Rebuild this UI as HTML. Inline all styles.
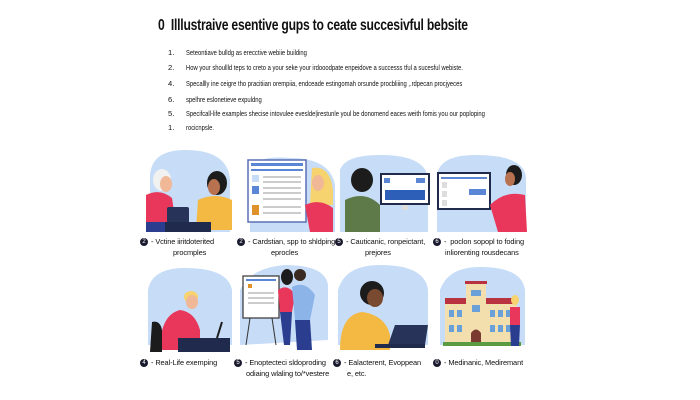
<!DOCTYPE html>
<html><head><meta charset="utf-8"><style>
html,body{margin:0;padding:0;background:#fff;}
body{width:700px;height:400px;overflow:hidden;position:relative;font-family:"Liberation Sans",sans-serif;color:#111;}
.t{position:absolute;white-space:nowrap;}
.title{left:158px;top:17px;font-size:16px;font-weight:bold;letter-spacing:-0.3px;transform:scaleX(0.76);transform-origin:left top;}
.li{font-size:7.6px;left:168px;}
.li span{position:absolute;left:18px;transform:scaleX(0.77);transform-origin:left top;}
.cap{font-size:7.4px;line-height:11px;letter-spacing:-0.1px;}
.dot{display:inline-block;width:8px;height:8px;border-radius:50%;background:#1a1a2e;color:#fff;font-size:6px;text-align:center;line-height:8px;vertical-align:middle;margin-right:3px;}
svg{position:absolute;left:0;top:0;}
</style></head><body>
<svg width="700" height="400" viewBox="0 0 700 400">
<path d="M150 232 L150 175 Q152 150 185 150 Q228 150 230 180 L230 232Z" fill="#c6dcf7"/>
<ellipse cx="162" cy="180" rx="9" ry="11" fill="#f1f1f1"/>
<ellipse cx="166" cy="184" rx="6" ry="8" fill="#f0b896"/>
<path d="M146 195 Q160 188 172 198 L176 225 L146 225Z" fill="#e8375a"/>
<rect x="146" y="222" width="30" height="10" fill="#2a3d8f"/>
<ellipse cx="217" cy="183" rx="10" ry="12" fill="#1c1c1c"/>
<ellipse cx="214" cy="187" rx="6" ry="8" fill="#b97250"/>
<path d="M198 200 Q215 192 232 200 L232 230 L196 230Z" fill="#f4b942"/>
<rect x="167" y="207" width="22" height="16" rx="2" fill="#28335a"/>
<rect x="165" y="222" width="46" height="10" fill="#1f2a4d"/>
<path d="M250 232 L250 170 Q255 155 290 158 Q330 158 335 185 L335 232Z" fill="#c6dcf7"/>
<rect x="248" y="160" width="58" height="62" fill="#fff" stroke="#5b6fb5" stroke-width="1.5"/>
<rect x="251" y="163" width="52" height="3" fill="#5b86d6"/>
<rect x="251" y="169" width="52" height="2" fill="#5b86d6"/>
<rect x="252" y="175" width="7" height="7" fill="#c6dcf7"/>
<rect x="252" y="186" width="7" height="8" fill="#5b86d6"/>
<rect x="252" y="205" width="7" height="10" fill="#e0922a"/>
<g fill="#ccc"><rect x="263" y="176" width="38" height="2"/><rect x="263" y="181" width="38" height="2"/><rect x="263" y="187" width="38" height="2"/><rect x="263" y="192" width="38" height="2"/><rect x="263" y="198" width="38" height="2"/><rect x="263" y="206" width="38" height="2"/><rect x="263" y="212" width="38" height="2"/></g>
<path d="M312 168 Q330 165 333 190 L333 205 L310 205Z" fill="#f6d36e"/>
<ellipse cx="318" cy="183" rx="6" ry="8" fill="#f0b896"/>
<path d="M305 205 Q320 198 333 208 L333 232 L310 232Z" fill="#e8375a"/>
<path d="M340 232 L340 170 Q345 155 380 155 Q425 155 428 178 L428 232Z" fill="#c6dcf7"/>
<ellipse cx="362" cy="180" rx="11" ry="12" fill="#1c1c1c"/>
<path d="M345 200 Q365 190 380 205 L380 232 L345 232Z" fill="#5d7a48"/>
<rect x="380" y="173" width="50" height="32" fill="#1f2a4d"/>
<rect x="382" y="175" width="46" height="28" fill="#fff"/>
<rect x="384" y="178" width="6" height="5" fill="#5b86d6"/><rect x="416" y="178" width="9" height="5" fill="#5b86d6"/>
<rect x="385" y="190" width="40" height="10" fill="#2e5fb8"/>
<rect x="402" y="205" width="6" height="5" fill="#ddd"/>
<path d="M437 232 L437 175 Q440 155 475 155 Q525 155 526 178 L526 232Z" fill="#c6dcf7"/>
<rect x="437" y="172" width="54" height="38" fill="#1f2a4d"/>
<rect x="439" y="174" width="50" height="34" fill="#fff"/>
<rect x="441" y="177" width="46" height="2" fill="#5b86d6"/>
<rect x="469" y="189" width="17" height="6" fill="#5b86d6"/>
<g fill="#ddd"><rect x="442" y="182" width="5" height="6"/><rect x="442" y="191" width="5" height="6"/><rect x="442" y="200" width="5" height="6"/></g>
<ellipse cx="514" cy="175" rx="8" ry="10" fill="#1c1c1c"/>
<ellipse cx="510" cy="179" rx="5" ry="7" fill="#b97250"/>
<path d="M490 205 Q505 190 525 195 L527 232 L498 232Z" fill="#e8375a"/>
<path d="M148 345 L148 290 Q152 268 185 268 Q228 268 232 290 L232 345Z" fill="#c6dcf7"/>
<ellipse cx="191" cy="297" rx="7" ry="6" fill="#f6d36e"/>
<ellipse cx="192" cy="302" rx="6" ry="7" fill="#f0b896"/>
<path d="M160 350 Q160 315 180 310 Q195 312 200 330 L200 350Z" fill="#e8375a"/>
<path d="M152 322 Q160 320 162 330 L162 352 L150 352Z" fill="#1c1c1c"/>
<rect x="178" y="338" width="52" height="14" fill="#1f2a4d"/>
<line x1="217" y1="338" x2="222" y2="322" stroke="#1c1c1c" stroke-width="2"/>
<path d="M240 345 L240 290 Q250 268 285 265 Q325 265 328 285 L328 340Z" fill="#c6dcf7"/>
<rect x="243" y="276" width="36" height="42" fill="#fff" stroke="#333" stroke-width="1.2"/>
<rect x="246" y="279" width="30" height="2" fill="#5b86d6"/>
<rect x="248" y="284" width="4" height="4" fill="#e0922a"/>
<g fill="#ccc"><rect x="248" y="292" width="26" height="2"/><rect x="248" y="297" width="26" height="2"/><rect x="248" y="302" width="26" height="2"/></g>
<line x1="250" y1="318" x2="246" y2="345" stroke="#333"/><line x1="272" y1="318" x2="276" y2="345" stroke="#333"/>
<ellipse cx="287" cy="277" rx="6" ry="8" fill="#1c1c1c"/>
<path d="M278 290 Q288 283 295 295 L292 312 L280 312Z" fill="#e8375a"/>
<path d="M280 312 L292 312 L290 345 L284 345Z" fill="#2a3d8f"/>
<ellipse cx="300" cy="275" rx="6" ry="6" fill="#3a2a20"/>
<path d="M292 287 Q305 280 315 295 L310 320 L295 320Z" fill="#8db4e8"/>
<path d="M295 320 L310 320 L312 350 L297 350Z" fill="#2a3d8f"/>
<path d="M338 345 L338 290 Q345 265 380 265 Q425 265 428 290 L428 345Z" fill="#c6dcf7"/>
<ellipse cx="372" cy="293" rx="12" ry="12" fill="#1c1c1c"/>
<ellipse cx="375" cy="298" rx="8" ry="9" fill="#7a4a30"/>
<path d="M340 350 Q340 315 362 312 Q385 315 390 335 L390 350Z" fill="#f4b942"/>
<path d="M395 325 L428 325 L425 345 L388 345Z" fill="#28335a"/>
<rect x="375" y="344" width="50" height="4" fill="#1f2a4d"/>
<path d="M440 345 L440 290 Q448 267 480 267 Q522 267 525 290 L525 345Z" fill="#c6dcf7"/>
<rect x="445" y="303" width="72" height="40" fill="#f3dfae"/>
<rect x="445" y="298" width="72" height="6" fill="#b8323f"/>
<rect x="466" y="282" width="20" height="62" fill="#f3dfae"/>
<rect x="465" y="281" width="22" height="3" fill="#b8323f"/>
<g fill="#6aa0d8"><rect x="471" y="290" width="10" height="6"/><rect x="449" y="310" width="5" height="7"/><rect x="457" y="310" width="5" height="7"/><rect x="490" y="310" width="5" height="7"/><rect x="498" y="310" width="5" height="7"/><rect x="506" y="310" width="5" height="7"/><rect x="449" y="325" width="5" height="7"/><rect x="457" y="325" width="5" height="7"/><rect x="490" y="325" width="5" height="7"/><rect x="498" y="325" width="5" height="7"/><rect x="506" y="325" width="5" height="7"/><rect x="472" y="305" width="8" height="7"/></g>
<path d="M471 344 L471 333 Q476 326 481 333 L481 344Z" fill="#7a3a30"/>
<rect x="443" y="342" width="78" height="4" fill="#5a9a40"/>
<ellipse cx="515" cy="300" rx="4" ry="5" fill="#f6d36e"/>
<path d="M510 307 L520 307 L520 325 L510 325Z" fill="#e8375a"/>
<path d="M510 325 L520 325 L519 346 L511 346Z" fill="#2a3d8f"/>
</svg>
<div class="t title">0&nbsp;&nbsp;Illlustraive esentive gups to ceate succesivful bebsite</div>
<div class="t li" style="top:48px">1.<span>Seteontiave bulldg as erecctive webiie building</span></div>
<div class="t li" style="top:63px">2.<span>How your shoullld teps to creto a your seke your irdooodpate enpeidove a successs tful a sucesful webiste.</span></div>
<div class="t li" style="top:79px">4.<span>Specallly ine ceigre tho pracitiian orempiia, endceade estingomah orsunde procbliiing ,.rdpecan procjyeces</span></div>
<div class="t li" style="top:95px">6.<span>spelhre eslonetieve expuldng</span></div>
<div class="t li" style="top:109px">5.<span>Specifcall-life examples shecise intovulee eveslde|irestunle youl be donomend eaces weith fomis you our poploping</span></div>
<div class="t li" style="top:123px">1.<span>rocicnpsle.</span></div>
<div class="t cap" style="left:140px;top:236px"><span class="dot">2</span>- Vctine iiritdoterited<br><span style="margin-left:33px">procmples</span></div>
<div class="t cap" style="left:237px;top:236px"><span class="dot">2</span>- Cardstian, spp to shldping<br><span style="margin-left:34px">eprocles</span></div>
<div class="t cap" style="left:335px;top:236px"><span class="dot">5</span>- Cauticanic, ronpeictant,<br><span style="margin-left:30px">prejores</span></div>
<div class="t cap" style="left:433px;top:236px"><span class="dot">6</span>-&nbsp; poclon sopopl to foding<br><span style="margin-left:12px">inliorenting rousdecans</span></div>
<div class="t cap" style="left:140px;top:357px"><span class="dot">4</span>- Real-Life exemping</div>
<div class="t cap" style="left:234px;top:357px"><span class="dot">5</span>- Enoptecteci sldoproding<br><span style="margin-left:12px">odiaing wlaling to/*vestere</span></div>
<div class="t cap" style="left:333px;top:357px"><span class="dot">6</span>- Ealacterent, Evoppean<br><span style="margin-left:14px">e, etc.</span></div>
<div class="t cap" style="left:433px;top:357px"><span class="dot">0</span>- Medinanic, Mediremant</div>
</body></html>
